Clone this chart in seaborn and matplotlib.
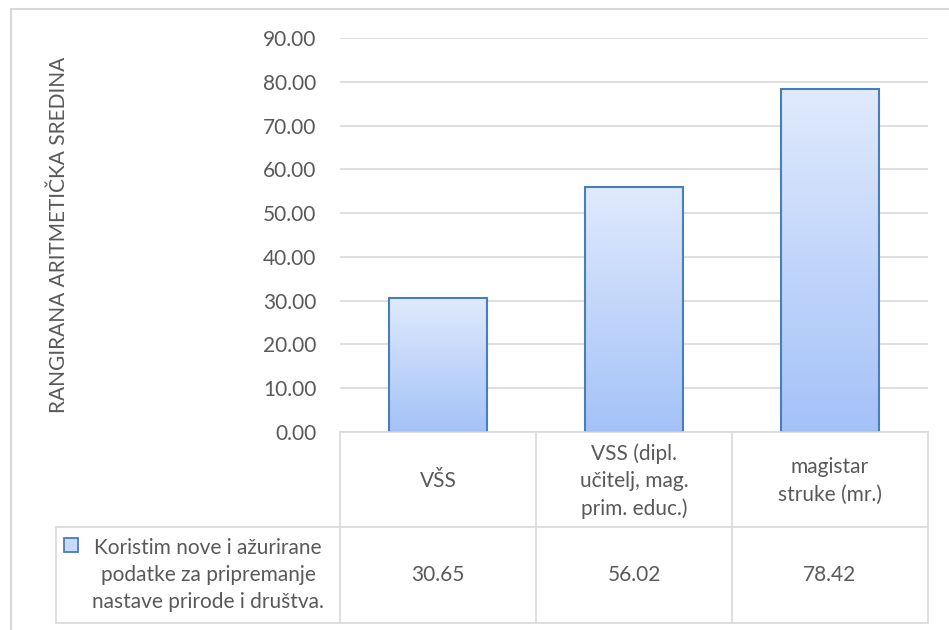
import numpy as np
import matplotlib
matplotlib.use("Agg")
import matplotlib.pyplot as plt
import matplotlib.transforms as mtransforms
from matplotlib.lines import Line2D
from matplotlib.patches import Rectangle
import seaborn as sns

# podaci
categories = ["VŠS", "VSS (dipl.\nučitelj, mag.\nprim. educ.)", "magistar\nstruke (mr.)"]
values = [30.65, 56.02, 78.42]
value_labels = ["30.65", "56.02", "78.42"]
series_name = "Koristim nove i ažurirane\npodatke za pripremanje\nnastave prirode i društva."
y_label = "RANGIRANA ARITMETIČKA SREDINA"
y_ticks = [0, 10, 20, 30, 40, 50, 60, 70, 80, 90]

sns.set_style("white")
plt.rcParams['font.family'] = ['Lato', 'DejaVu Sans']

TXT = "#595959"
GRID = "#d9d9d9"
EDGE = "#4a7ebb"
W, H = 949, 630


def fx(px):
    return px / W


def fy(py):
    return 1 - py / H


fig = plt.figure(figsize=(9.49, 6.3), dpi=100)
ax = fig.add_axes([fx(340), fy(432), fx(928) - fx(340), fy(38) - fy(432)])

sns.barplot(x=categories, y=values, ax=ax, width=0.5, color="#c9daf8",
            edgecolor=EDGE, linewidth=1.5)

# gradijent u stupcima
grad = np.linspace(0, 1, 256).reshape(-1, 1)
cmap = matplotlib.colors.LinearSegmentedColormap.from_list("g", ["#a4c2f8", "#e0eafd"])
for p in ax.patches:
    x0, y0 = p.get_x(), p.get_y()
    w, h = p.get_width(), p.get_height()
    im = ax.imshow(grad, cmap=cmap, extent=[x0, x0 + w, y0, y0 + h],
                   origin="lower", aspect="auto", zorder=2)
    im.set_clip_path(p)
    p.set_facecolor("none")
    p.set_zorder(3)

ax.set_xlim(-0.5, 2.5)
ax.set_ylim(0, 90)
ax.set_yticks(y_ticks)
ax.set_yticklabels([f"{t:.2f}" for t in y_ticks], color=TXT, fontsize=15)
ax.tick_params(axis="y", length=0, pad=17)
ax.set_xticks([])
ax.grid(axis="y", color=GRID, linewidth=1.2)
ax.set_axisbelow(True)
for s in ax.spines.values():
    s.set_visible(False)
ax.set_ylabel("")
fig.text(fx(59), fy(235), y_label, rotation=90, ha="center", va="center",
         color=TXT, fontsize=15)

# tablica podataka
blend = mtransforms.blended_transform_factory(ax.transData, fig.transFigure)
for xb in [-0.5, 0.5, 1.5, 2.5]:
    fig.add_artist(Line2D([xb, xb], [fy(432), fy(623)], transform=blend,
                          color=GRID, linewidth=1.2))
fig.add_artist(Line2D([fx(340), fx(928)], [fy(432), fy(432)], color=GRID, linewidth=1.2))
for yy in [527, 623]:
    fig.add_artist(Line2D([fx(56), fx(928)], [fy(yy), fy(yy)], color=GRID, linewidth=1.2))
fig.add_artist(Line2D([fx(56), fx(56)], [fy(527), fy(623)], color=GRID, linewidth=1.2))

for i, (cat, lab) in enumerate(zip(categories, value_labels)):
    fig.text(i, fy(481), cat, transform=blend, ha="center", va="center",
             color=TXT, fontsize=15, linespacing=1.45, multialignment="center")
    fig.text(i, fy(575), lab, transform=blend, ha="center", va="center",
             color=TXT, fontsize=15)

# legenda u tablici
fig.add_artist(Rectangle((fx(64), fy(552)), fx(14), fy(538) - fy(552),
                         facecolor="#c9daf8", edgecolor=EDGE, linewidth=1.3))
fig.text(fx(208), fy(575), series_name, ha="center", va="center", color=TXT,
         fontsize=15, linespacing=1.45, multialignment="center")

# okvir grafikona
fig.add_artist(Line2D([fx(11), fx(11)], [fy(9), 0], color=GRID, linewidth=1.5))
fig.add_artist(Line2D([fx(11), 1], [fy(9), fy(9)], color=GRID, linewidth=1.5))

fig.savefig("out.png", dpi=100, facecolor="white")
